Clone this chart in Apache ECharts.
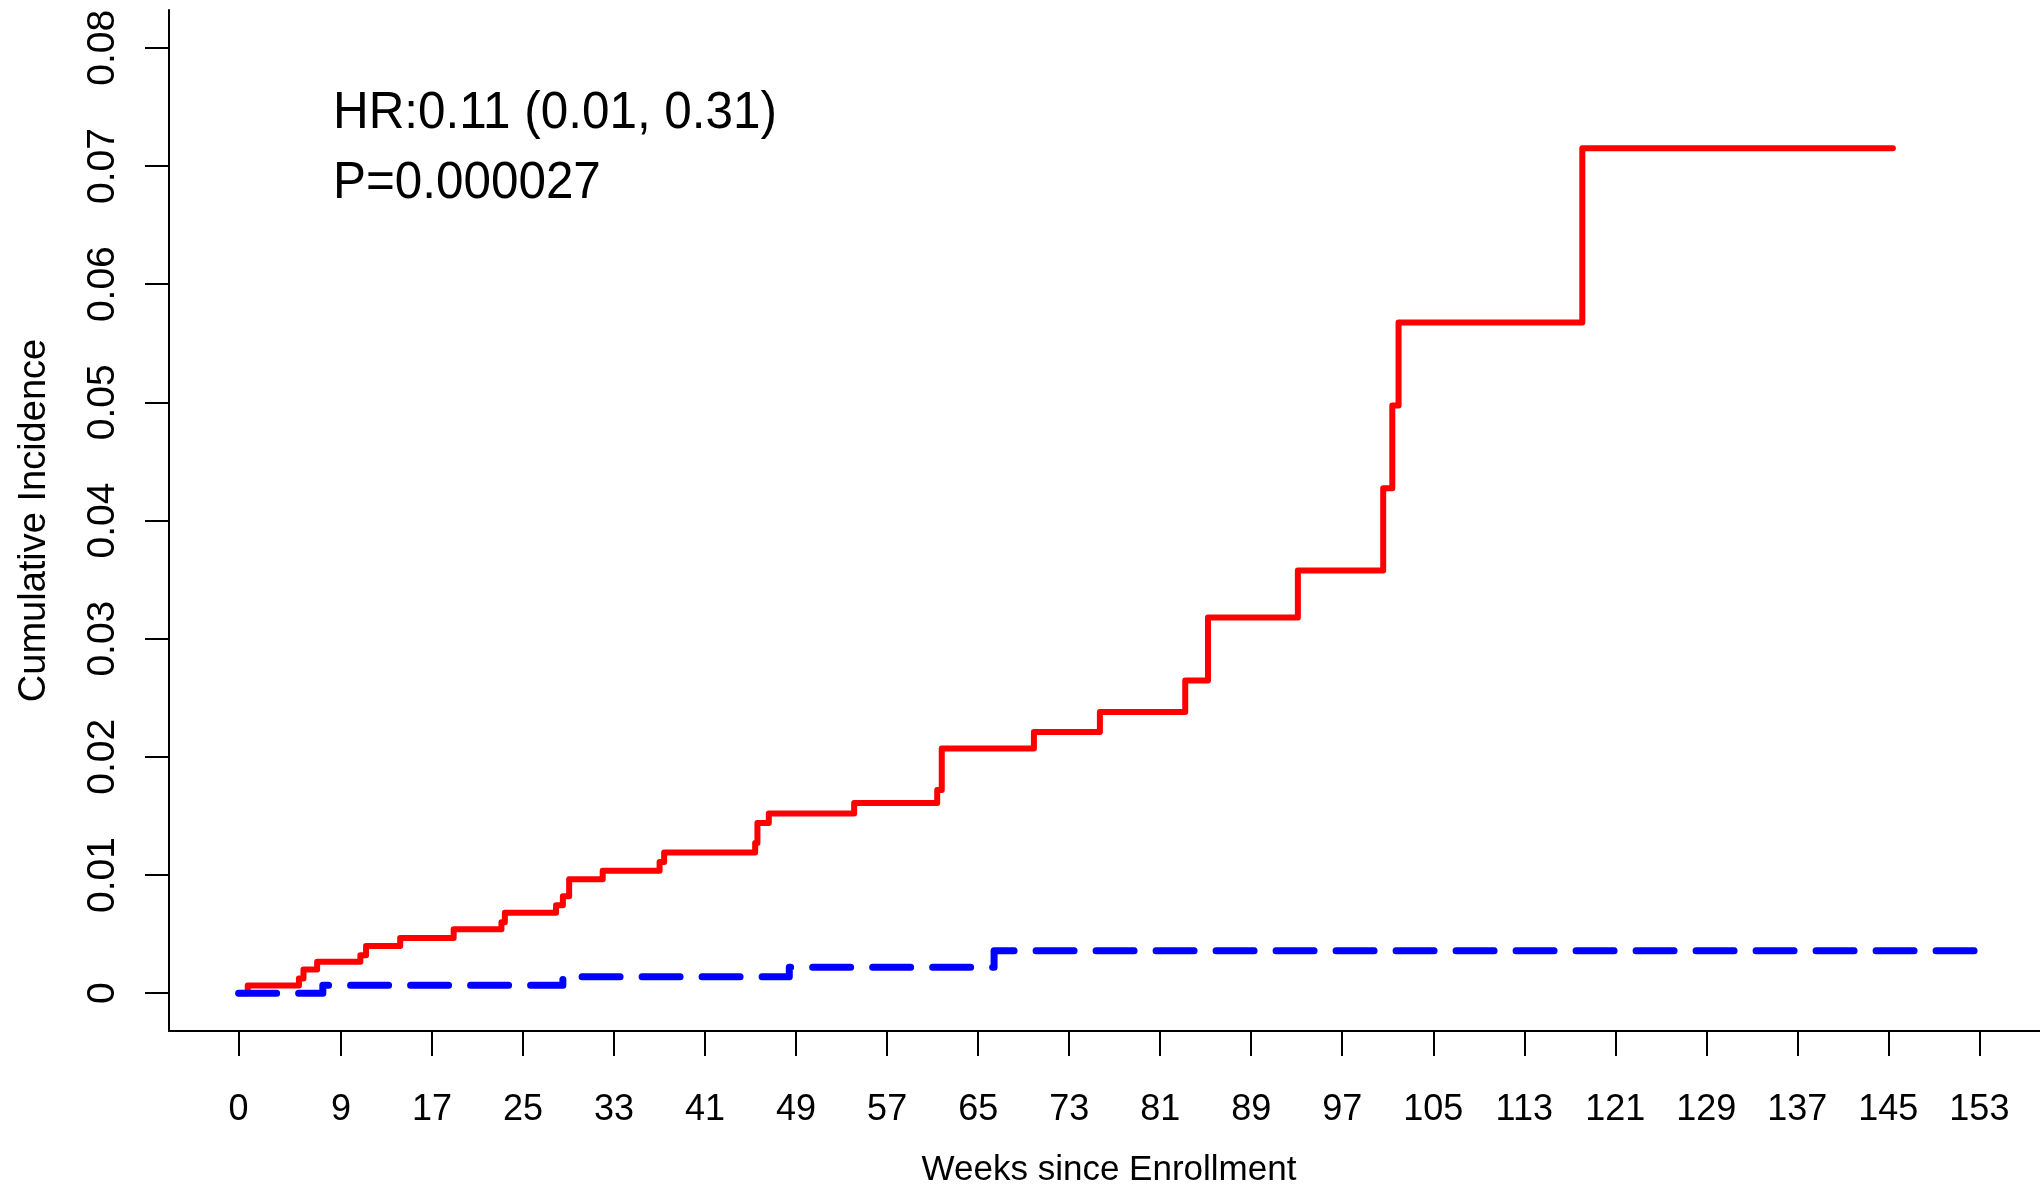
<!DOCTYPE html>
<html><head><meta charset="utf-8">
<script src="https://cdn.jsdelivr.net/npm/echarts@6/dist/echarts.min.js"></script>
<style>html,body{margin:0;padding:0;background:#fff}#c{width:2040px;height:1192px}</style>
</head><body><div id="c"></div>
<script>
const xTicks = [0,9,17,25,33,41,49,57,65,73,81,89,97,105,113,121,129,137,145,153];
const yTicks = [0,0.01,0.02,0.03,0.04,0.05,0.06,0.07,0.08];

const redWeeks = [0, 0.8, 5.3, 5.7, 6.9, 10.7, 11.2, 14.2, 18.9, 23.1, 23.4, 27.9, 28.5, 29.05, 32.0, 37.0, 37.4, 45.4, 45.6, 46.6, 54.1, 61.4, 61.8, 69.9, 75.7, 83.2, 85.2, 93.1, 100.6, 101.4, 101.95, 118.1, 145.4];
const redIncidence = [0, 0.00065, 0.00125, 0.0020, 0.00265, 0.0032, 0.0040, 0.00468, 0.0054, 0.0060, 0.0068, 0.00745, 0.0082, 0.00965, 0.01036, 0.0111, 0.0119, 0.0127, 0.0144, 0.0152, 0.0161, 0.0172, 0.0207, 0.0221, 0.0238, 0.02645, 0.0318, 0.03576, 0.04273, 0.04973, 0.05676, 0.0715, 0.0715];

const blueWeeks = [0, 7.4, 28.5, 48.4, 66.4, 153];
const blueIncidence = [0, 0.00068, 0.0014, 0.0022, 0.0036, 0.0036];

const annotationLines = ['HR:0.11 (0.01, 0.31)', 'P=0.000027'];
const xName = 'Weeks since Enrollment';
const yName = 'Cumulative Incidence';

const FONT = '"Liberation Sans", Arial, Helvetica, sans-serif';
const zip = (a, b) => a.map((v, i) => [v, b[i]]);

const chart = echarts.init(document.getElementById('c'), null, {renderer: 'canvas'});
chart.setOption({
  animation: false,
  backgroundColor: '#ffffff',
  grid: {left: 169, top: 10, width: 1880, height: 1021, containLabel: false, outerBoundsMode: 'none'},
  xAxis: {
    type: 'value', min: -6.12, max: 159.12,
    name: xName, nameLocation: 'middle', nameGap: 122,
    nameTextStyle: {fontFamily: FONT, fontSize: 35, color: '#000'},
    axisLine: {show: true, onZero: false, lineStyle: {color: '#000', width: 2}},
    axisTick: {show: true, inside: false, length: 25, lineStyle: {color: '#000', width: 2}, customValues: xTicks},
    axisLabel: {show: true, margin: 61, fontFamily: FONT, fontSize: 36, color: '#000', customValues: xTicks, hideOverlap: false},
    splitLine: {show: false}
  },
  yAxis: {
    type: 'value', min: -0.0032, max: 0.0832,
    name: yName, nameLocation: 'middle', nameGap: 115,
    nameTextStyle: {fontFamily: FONT, fontSize: 38, color: '#000'},
    axisLine: {show: true, onZero: false, lineStyle: {color: '#000', width: 2}},
    axisTick: {show: true, inside: false, length: 24, lineStyle: {color: '#000', width: 2}, customValues: yTicks},
    axisLabel: {show: true, margin: 46, rotate: 90, fontFamily: FONT, fontSize: 39, color: '#000', customValues: yTicks,
      hideOverlap: false,
      formatter: v => (Math.abs(v) < 1e-9 ? '0' : v.toFixed(2))},
    splitLine: {show: false}
  },
  series: [
    {
      type: 'line', step: 'end', showSymbol: false, symbol: 'none', silent: true,
      data: zip(redWeeks, redIncidence),
      lineStyle: {color: '#ff0000', width: 6, cap: 'round', join: 'round'},
      z: 2
    },
    {
      type: 'line', step: 'end', showSymbol: false, symbol: 'none', silent: true,
      data: zip(blueWeeks, blueIncidence),
      lineStyle: {color: '#0000ff', width: 7, type: [38, 22], cap: 'round', join: 'round'},
      z: 3
    }
  ],
  graphic: [
    {type: 'text', x: 333, y: 114, scaleX: 0.95, silent: true,
      style: {text: annotationLines[0], x: 0, y: 0, font: '52px ' + FONT, fill: '#000',
        textAlign: 'left', align: 'left', textVerticalAlign: 'middle', verticalAlign: 'middle'}},
    {type: 'text', x: 333, y: 184, scaleX: 0.95, silent: true,
      style: {text: annotationLines[1], x: 0, y: 0, font: '52px ' + FONT, fill: '#000',
        textAlign: 'left', align: 'left', textVerticalAlign: 'middle', verticalAlign: 'middle'}}
  ]
});
</script>
</body></html>
